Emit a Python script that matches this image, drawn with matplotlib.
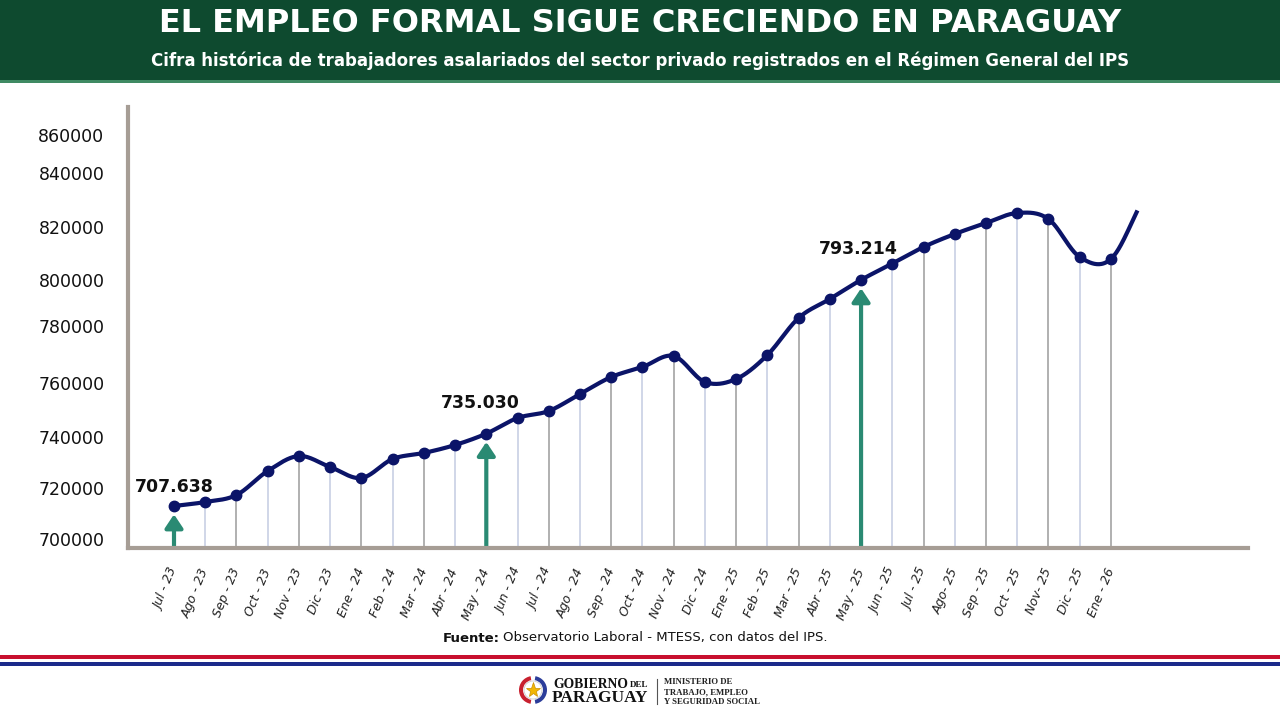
import numpy as np
import matplotlib
matplotlib.use('Agg')
import matplotlib.pyplot as plt
from matplotlib.patches import Rectangle, Wedge, Circle

# data
months = ['Jul - 23', 'Ago - 23', 'Sep - 23', 'Oct - 23', 'Nov - 23', 'Dic - 23',
          'Ene - 24', 'Feb - 24', 'Mar - 24', 'Abr - 24', 'May - 24', 'Jun - 24',
          'Jul - 24', 'Ago - 24', 'Sep - 24', 'Oct - 24', 'Nov - 24', 'Dic - 24',
          'Ene - 25', 'Feb - 25', 'Mar - 25', 'Abr - 25', 'May - 25', 'Jun - 25',
          'Jul - 25', 'Ago- 25', 'Sep - 25', 'Oct - 25', 'Nov- 25', 'Dic - 25',
          'Ene - 26']
workers = [707638, 709150, 711800, 720900, 726560, 722400, 718240, 725430,
           727700, 730730, 735030, 740950, 743600, 750030, 756460, 760250,
           764410, 754570, 755710, 764790, 778800, 785990, 793214, 799420,
           805670, 810590, 814750, 818540, 816270, 801890, 801130]
next_value = 823000  # Feb-26, line is only partly drawn toward it
highlight = ['Jul - 23', 'May - 24', 'May - 25']
highlight_text = ['707.638', '735.030', '793.214']
ytick_labels = ['700000', '720000', '740000', '760000', '780000',
                '800000', '820000', '840000', '860000']
# where the reference prints those labels along the axis
ytick_at = [695030, 714570, 733870, 754190, 775770, 793180, 813350, 833790, 848060]

NAVY = '#0b1468'
TEAL = '#2a8a73'
AXC = '#a69d95'


def catmull(vals, steps=40):
    v = np.asarray(vals, dtype=float)
    m = np.empty_like(v)
    m[1:-1] = (v[2:] - v[:-2]) / 2
    m[0] = v[1] - v[0]
    m[-1] = v[-1] - v[-2]
    xs, ys = [], []
    t = np.linspace(0, 1, steps, endpoint=False)
    for i in range(len(v) - 1):
        h00 = 2 * t**3 - 3 * t**2 + 1
        h10 = t**3 - 2 * t**2 + t
        h01 = -2 * t**3 + 3 * t**2
        h11 = t**3 - t**2
        xs.append(i + t)
        ys.append(h00 * v[i] + h10 * m[i] + h01 * v[i + 1] + h11 * m[i + 1])
    return np.concatenate(xs), np.concatenate(ys)


fig = plt.figure(figsize=(12.8, 7.2), dpi=100)
fig.patch.set_facecolor('white')

# decoration layer in pixel units
deco = fig.add_axes([0, 0, 1, 1], zorder=0)
deco.set_xlim(0, 1280)
deco.set_ylim(720, 0)
deco.axis('off')
deco.add_patch(Rectangle((0, 0), 1280, 82, color='#0e4a2f', lw=0))
deco.add_patch(Rectangle((0, 80), 1280, 3, color='#3f8a63', lw=0))
deco.text(640, 23, 'EL EMPLEO FORMAL SIGUE CRECIENDO EN PARAGUAY', color='white',
          fontsize=23, fontweight='bold', ha='center', va='center')
deco.text(640, 61, 'Cifra histórica de trabajadores asalariados del sector privado '
          'registrados en el Régimen General del IPS', color='white',
          fontsize=12, fontweight='bold', ha='center', va='center')

deco.text(500, 638, 'Fuente:', fontsize=9.5, fontweight='bold', ha='right',
          va='center', color='#111111')
deco.text(503, 638, 'Observatorio Laboral - MTESS, con datos del IPS.', fontsize=9.5,
          ha='left', va='center', color='#111111')

deco.add_patch(Rectangle((0, 655), 1280, 4, color='#c8102e', lw=0))
deco.add_patch(Rectangle((0, 662), 1280, 4, color='#1b2a8a', lw=0))

# logo
deco.add_patch(Circle((533, 690), 9, facecolor='white', edgecolor='#cccccc', lw=0.6))
deco.add_patch(Wedge((533, 690), 14, 100, 260, width=4, color='#c8202f', lw=0))
deco.add_patch(Wedge((533, 690), 14, -80, 80, width=4, color='#2b3d9a', lw=0))
deco.plot([533], [690], marker='*', markersize=11, color='#f2b705', mec='#c98f00', mew=0.5)
deco.text(553, 684, 'GOBIERNO', family='Liberation Serif', fontweight='bold',
          fontsize=9.8, ha='left', va='center', color='#111111')
deco.text(630, 685, 'DEL', family='Liberation Serif', fontweight='bold',
          fontsize=6.5, ha='left', va='center', color='#111111')
deco.text(552, 698, 'PARAGUAY', family='Liberation Serif', fontweight='bold',
          fontsize=12.5, ha='left', va='center', color='#111111')
deco.plot([657, 657], [679, 704], color='#555555', lw=0.8)
for k, line in enumerate(['MINISTERIO DE', 'TRABAJO, EMPLEO', 'Y SEGURIDAD SOCIAL']):
    deco.text(664, 682 + 10 * k, line, family='Liberation Serif', fontweight='bold',
              fontsize=6.3, ha='left', va='center', color='#222222')

# chart
ax = fig.add_axes([128 / 1280, (720 - 548) / 720, (1248 - 128) / 1280, (548 - 107) / 720],
                  zorder=1)
ax.set_facecolor('none')
ax.set_xlim(-1.473, 34.39)
ax.set_ylim(691740, 858660)
ybot = ax.get_ylim()[0]

x = np.arange(len(months))
hl_idx = [months.index(h) for h in highlight]

drop_colors = ['#9b9b9b', '#c3cbe2']
for i in x:
    if i in hl_idx:
        continue
    ax.vlines(i, ybot, workers[i], colors=drop_colors[i % 2], lw=1.1, zorder=1)

cx, cy = catmull(workers + [next_value])
keep = cx <= len(workers) - 1 + 0.87
ax.plot(cx[keep], cy[keep], color=NAVY, lw=3, solid_capstyle='butt', zorder=3)
ax.plot(x, workers, 'o', color=NAVY, markersize=7.5, zorder=4)

label_offsets = [(0, 14), (-4, 22), (-2, 22)]
for i, txt, off in zip(hl_idx, highlight_text, label_offsets):
    ax.annotate('', xy=(i, workers[i]), xytext=(i, ybot),
                arrowprops=dict(arrowstyle='-|>,head_length=0.45,head_width=0.3',
                                color=TEAL, lw=3, mutation_scale=18,
                                shrinkA=0, shrinkB=6),
                zorder=2)
    ax.annotate(txt, xy=(i, workers[i]), xytext=off, textcoords='offset points',
                ha='center', va='center', fontsize=12.5, fontweight='bold',
                color='#111111', zorder=5)

ax.set_xticks(x)
ax.set_xticklabels(months, rotation=68, ha='right', va='center',
                   rotation_mode='anchor', fontsize=9, style='italic', color='#222222')
ax.set_yticks(ytick_at)
ax.set_yticklabels(ytick_labels, fontsize=12.5, color='#111111')
ax.tick_params(axis='y', length=0, pad=17)
ax.tick_params(axis='x', length=0, pad=15)

for s in ['top', 'right']:
    ax.spines[s].set_visible(False)
for s in ['left', 'bottom']:
    ax.spines[s].set_color(AXC)
    ax.spines[s].set_linewidth(3)

fig.savefig('out.png', dpi=100)
